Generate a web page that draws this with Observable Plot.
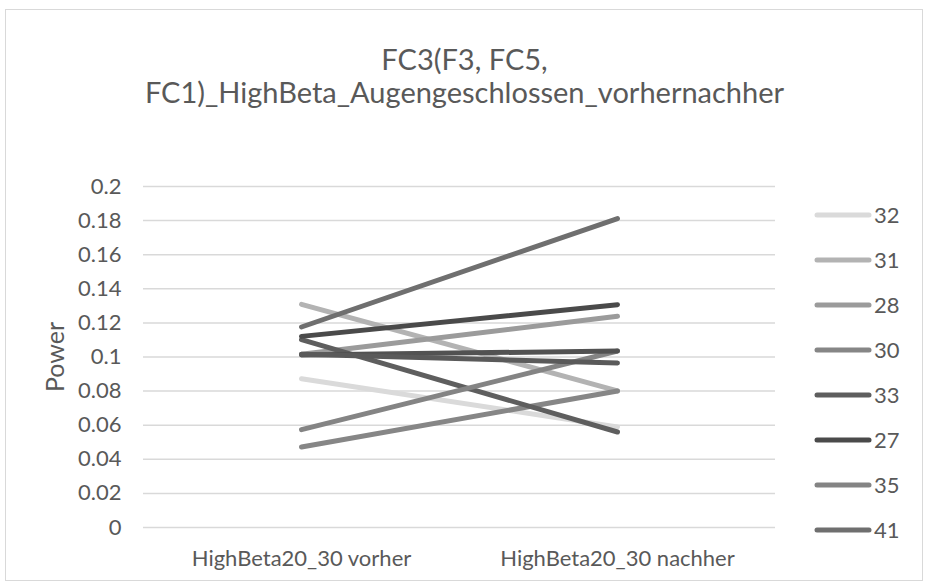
<!DOCTYPE html>
<html>
<head>
<meta charset="utf-8">
<script src="https://cdn.jsdelivr.net/npm/d3@7"></script>
<script src="https://cdn.jsdelivr.net/npm/@observablehq/plot@0.6"></script>
<style>
  html, body { margin: 0; padding: 0; background: #fff; }
  svg { display: block; }
</style>
</head>
<body>
<div id="chart"></div>
<script>
// Two measurement points per participant
const categories = ["HighBeta20_30 vorher", "HighBeta20_30 nachher"];

// Participants in drawing order (later ones are drawn on top)
const seriesNames = ["32", "31", "28", "30", "33", "27", "35", "41", "S9", "S10"];
const vorher  = [0.0873, 0.1309, 0.1016, 0.0472, 0.1102, 0.1121, 0.0574, 0.1176, 0.1012, 0.1016];
const nachher = [0.0590, 0.0801, 0.1239, 0.0801, 0.0560, 0.1307, 0.1035, 0.1812, 0.1035, 0.0965];
const seriesColors = ["#dadada", "#b3b3b3", "#9b9b9b", "#868686", "#5e5e5e", "#4a4a4a", "#848484", "#6f6f6f", "#525252", "#5a5a5a"];

// Entries listed in the legend
const legendNames = ["32", "31", "28", "30", "33", "27", "35", "41"];

const yTicks = [0, 0.02, 0.04, 0.06, 0.08, 0.1, 0.12, 0.14, 0.16, 0.18, 0.2];
const titleLines = ["FC3(F3, FC5,", "FC1)_HighBeta_Augengeschlossen_vorhernachher"];
const yLabel = "Power";

const rows = seriesNames.flatMap((name, i) => [
  {series: name, phase: categories[0], value: vorher[i]},
  {series: name, phase: categories[1], value: nachher[i]}
]);

const font = "Lato, 'Open Sans', sans-serif";
const textColor = "#595959";

const plot = Plot.plot({
  width: 928,
  height: 588,
  marginLeft: 143,
  marginRight: 153,
  marginTop: 186,
  marginBottom: 61,
  style: {fontFamily: font, fontSize: "22px", color: textColor, background: "#fff"},
  x: {type: "point", domain: categories, padding: 0.5},
  y: {domain: [0, 0.2]},
  color: {type: "ordinal", domain: seriesNames, range: seriesColors},
  marks: [
    Plot.ruleY(yTicks, {stroke: "#d9d9d9", strokeWidth: 1.5}),
    Plot.axisY({ticks: yTicks, tickSize: 0, tickPadding: 22, label: null,
      tickFormat: d => String(+d.toFixed(2)), fontSize: 22}),
    Plot.axisX({tickSize: 0, tickPadding: 23, label: null, fontSize: 22}),
    Plot.line(rows, {x: "phase", y: "value", z: "series", stroke: "series",
      strokeWidth: 5, strokeLinecap: "round", strokeLinejoin: "round"}),
    Plot.text([yLabel], {frameAnchor: "left", textAnchor: "middle", dx: -88, rotate: -90,
      fontSize: 25, fill: textColor}),
    // Title, one mark per line
    Plot.text([titleLines[0]], {frameAnchor: "top", dx: 5, dy: 69 - 186,
      lineAnchor: "bottom", fontSize: 29, fill: textColor}),
    Plot.text([titleLines[1]], {frameAnchor: "top", dx: 5, dy: 102 - 186,
      lineAnchor: "bottom", fontSize: 29, fill: textColor})
  ]
});

const svg = d3.select(plot);

// Chart border
svg.insert("rect", ":first-child")
  .attr("x", 5.5).attr("y", 9.5).attr("width", 917).attr("height", 571)
  .attr("fill", "none").attr("stroke", "#d9d9d9").attr("stroke-width", 1);

// Legend on the right
const colorScale = plot.scale("color");
const colorOf = d3.scaleOrdinal(colorScale.domain, colorScale.range);
const legend = svg.append("g")
  .attr("font-family", font).attr("font-size", 22)
  .attr("fill", textColor).attr("text-anchor", "start");
const item = legend.selectAll("g").data(legendNames).join("g")
  .attr("transform", (d, i) => `translate(0,${215 + 45 * i})`);
item.append("line")
  .attr("x1", 817).attr("x2", 869)
  .attr("stroke", d => colorOf(d)).attr("stroke-width", 5).attr("stroke-linecap", "round");
item.append("text")
  .attr("x", 874).attr("dy", "0.36em").text(d => d);

document.getElementById("chart").appendChild(plot);
</script>
</body>
</html>
